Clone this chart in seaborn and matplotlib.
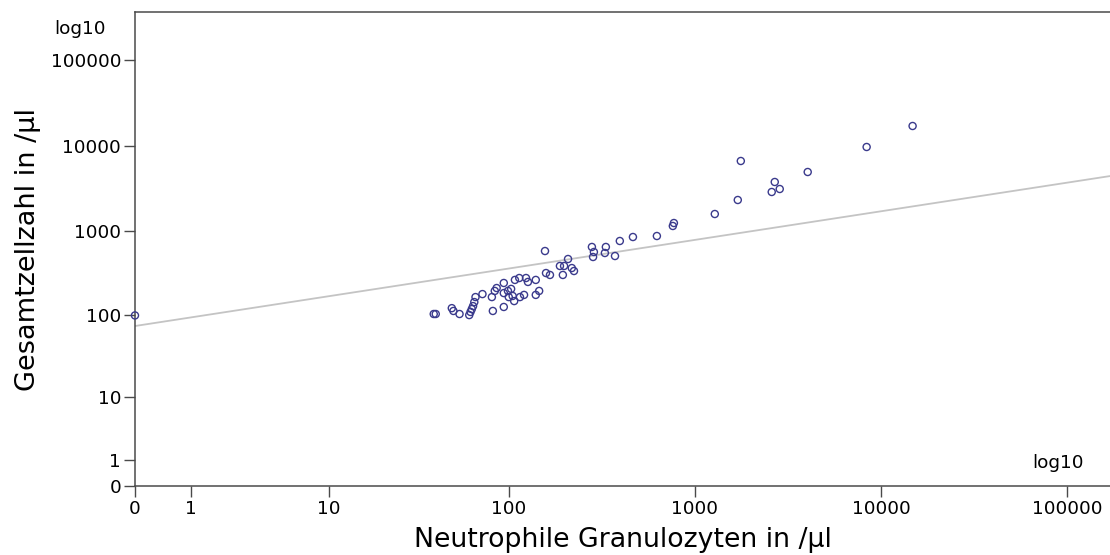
import numpy as np
import pandas as pd
import matplotlib
matplotlib.use("Agg")
import matplotlib.pyplot as plt
import seaborn as sns

# Neutrophil count vs. total cell count (both per µl)
neutrophils = [0, 39, 40, 49, 50, 54, 61, 62, 63, 64, 65, 66, 72, 81, 82, 84, 86,
               94, 94, 94, 99, 100, 103, 105, 107, 108, 114, 115, 121, 124, 127,
               140, 140, 146, 157, 159, 167, 189, 196, 199, 209, 219, 225, 281,
               288, 285, 334, 330, 374, 397, 467, 628, 775, 765, 1285, 1707, 1772,
               2596, 2695, 2866, 4049, 8383, 14787]
total_cells = [100, 104, 104, 122, 113, 104, 101, 110, 119, 129, 144, 165, 179, 165,
               113, 195, 211, 242, 126, 184, 195, 165, 206, 170, 148, 263, 277, 165,
               175, 277, 249, 263, 175, 195, 576, 317, 301, 384, 301, 384, 464, 363,
               335, 643, 561, 490, 643, 546, 503, 756, 842, 865, 1230, 1135, 1570,
               2294, 6591, 2849, 3734, 3089, 4894, 9629, 16993]

# Reference line in log10(1 + v) space: y' = intercept + slope * x'
line_intercept = 1.880
line_slope = 0.337

tick_values = [0, 1, 10, 100, 1000, 10000, 100000]
tick_labels = ["0", "1", "10", "100", "1000", "10000", "100000"]


def fwd(v):
    return np.log10(np.asarray(v, dtype=float) + 1.0)


def inv(t):
    return np.power(10.0, np.asarray(t, dtype=float)) - 1.0


df = pd.DataFrame({"neutro": neutrophils, "total": total_cells})

sns.set_style("white")
plt.rcParams["font.family"] = ["DejaVu Sans"]

fig = plt.figure(figsize=(11.1, 5.55), dpi=100)
ax = fig.add_axes([0.1216, 0.1243, 0.8790, 0.8535])

ax.set_xscale("function", functions=(fwd, inv))
ax.set_yscale("function", functions=(fwd, inv))

xmax_t = 5.232
ymax_t = 5.566
ax.set_xlim(0, inv(xmax_t))
ax.set_ylim(0, inv(ymax_t))

# straight line in transformed coordinates
xt = np.linspace(0, xmax_t, 50)
ax.plot(inv(xt), inv(line_intercept + line_slope * xt),
        color="#c4c4c4", lw=1.3, zorder=1)

sns.scatterplot(data=df, x="neutro", y="total", ax=ax,
                marker="o", s=26, facecolor="none",
                edgecolor="#3a3a8c", linewidth=1.0, zorder=3, clip_on=False)

ax.set_xticks(tick_values)
ax.set_xticklabels(tick_labels)
ax.set_yticks(tick_values)
ax.set_yticklabels(tick_labels)
ax.minorticks_off()

for sp in ax.spines.values():
    sp.set_color("#4a4a4a")
    sp.set_linewidth(1.1)

ax.tick_params(axis="both", which="major", direction="out", length=8,
               width=1.0, color="#4a4a4a", labelsize=13.3, labelcolor="black",
               bottom=True, left=True, pad=2)

ax.set_xlabel("Neutrophile Granulozyten in /µl", fontsize=19.3, color="black",
              labelpad=6.5)
ax.set_ylabel("Gesamtzellzahl in /µl", fontsize=19.5, color="black",
              labelpad=7)

ax.text(-0.0564, 0.965, "log10", transform=ax.transAxes, ha="center",
        va="center", fontsize=13.3, color="black")
ax.text(0.9456, 0.0486, "log10", transform=ax.transAxes, ha="center",
        va="center", fontsize=13.3, color="black")

fig.savefig("out.png", dpi=100)
